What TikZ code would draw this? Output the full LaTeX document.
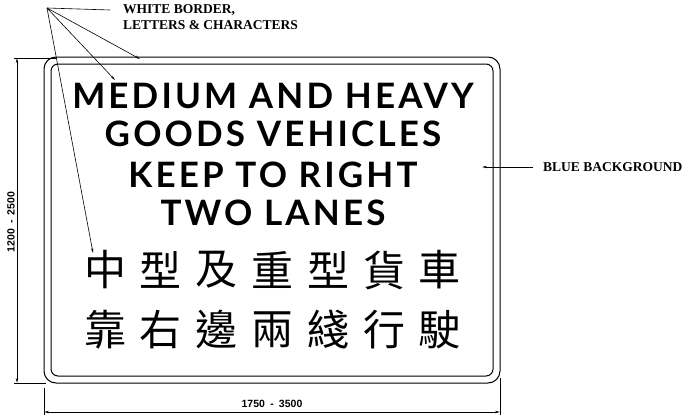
\documentclass[tikz,border=0pt]{standalone}
\usepackage{fontspec}
\setmainfont{Liberation Serif}
\newfontfamily\signfont{Lato}[LetterSpace=9]
\newfontfamily\cjkfont{Noto Sans CJK TC}
\newfontfamily\dimfont{Liberation Sans}
\usetikzlibrary{arrows.meta}

\tikzset{
  tip/.style={-{Stealth[length=5pt,width=2.4pt]}},
  leader/.style={line width=0.6pt,tip},
  dimline/.style={line width=0.6pt,{Stealth[length=5pt,width=2.4pt]}-{Stealth[length=5pt,width=2.4pt]}},
  extline/.style={line width=0.6pt},
  note/.style={font=\bfseries\fontsize{13.5}{15}\selectfont,anchor=west,inner sep=0pt},
  dimtext/.style={font=\dimfont\bfseries\fontsize{10.5}{12}\selectfont,inner sep=0pt},
  signtext/.style={font=\signfont\bfseries\fontsize{35}{40}\selectfont,inner sep=0pt},
  cjktext/.style={font=\cjkfont\fontsize{42}{46}\selectfont,inner sep=0pt}
}

\begin{document}
\begin{tikzpicture}[x=1pt,y=-1pt]
        \useasboundingbox (0,0) rectangle (692,415);

        % sign plate: outer edge and white border
        \draw[line width=1pt,rounded corners=12pt] (44,57) rectangle (500,383);
        \draw[line width=1pt,rounded corners=7pt] (51,64) rectangle (493,376);

        \node[signtext] (line1) at (273,96) {MEDIUM AND HEAVY};
        \node[signtext] (line2) at (273,134) {GOODS VEHICLES};
        \node[signtext] (line3) at (273,175) {KEEP TO RIGHT};
        \node[signtext] (line4) at (273,213) {TWO LANES};

        \foreach \ch [count=\i] in {中,型,及,重,型,貨,車}{
          \node[cjktext] (zhA\i) at (105+55.8*\i-55.8,270) {\ch};
        }
        \foreach \ch [count=\i] in {靠,右,邊,兩,綫,行,駛}{
          \node[cjktext] (zhB\i) at (105+55.8*\i-55.8,330) {\ch};
        }

        % callouts
        \coordinate (apex) at (47,8);
        \coordinate (tipborder) at (140,59);
        \coordinate (tipletter) at (115,80);
        \coordinate (tipchar) at (93,253);
        \node[note] (white1) at (123,10) {WHITE BORDER,};
        \node[note] (white2) at (123,25) {LETTERS \& CHARACTERS};
        \draw[extline] (apex) -- ([xshift=-13pt]white1.west);
        \draw[leader] (apex) -- (tipborder);
        \draw[leader] (apex) -- (tipletter);
        \draw[leader] (apex) -- (tipchar);

        \node[note] (blue) at (543,167) {BLUE BACKGROUND};
        \coordinate (bluetip) at (482,167);
        \draw[leader] ([xshift=-10pt]blue.west) -- (bluetip);

        % dimensions
        \coordinate (vtop) at (17,58);
        \coordinate (vbot) at (17,383);
        \draw[extline] (14,58) -- (57,58);
        \draw[extline] (14,383) -- (46,383);
        \draw[dimline] (vtop) -- (vbot);
        \node[dimtext,rotate=90] (height) at (11,222) {1200\enspace-\enspace2500};

        \coordinate (hleft) at (44,412);
        \coordinate (hright) at (500,412);
        \draw[extline] (44,388) -- (44,415);
        \draw[extline] (500,378) -- (500,415);
        \draw[dimline] (hleft) -- (hright);
        \node[dimtext] (width) at (272,404) {1750\enspace-\enspace3500};
\end{tikzpicture}
\end{document}
